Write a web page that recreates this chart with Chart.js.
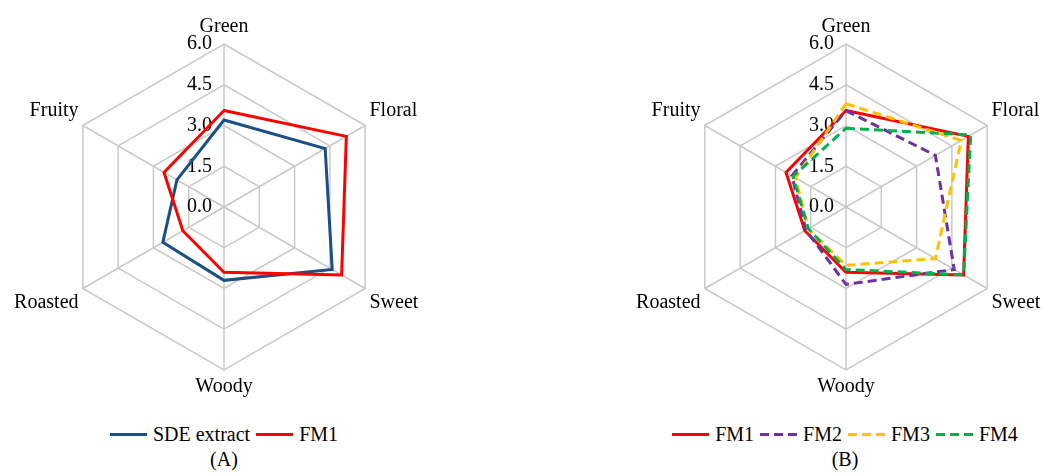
<!DOCTYPE html>
<html>
<head>
<meta charset="utf-8">
<script src="https://cdn.jsdelivr.net/npm/chart.js@4.4.1/dist/chart.umd.min.js"></script>
<style>
    html, body { margin: 0; padding: 0; background: #fff; }
    body { width: 1043px; height: 475px; position: relative; overflow: hidden;
           font-family: 'Liberation Serif', 'Times New Roman', serif; color: #000; }
    canvas { position: absolute; top: 0; }
    #chartA { left: 0; }
    #chartB { left: 521px; }
    .legend { position: absolute; top: 421px; width: 480px; height: 26px;
              display: flex; justify-content: center; align-items: center; font-size: 20px; }
    .legend .item { display: flex; align-items: center; margin: 0 3px; }
    .legend .swatch { width: 37px; height: 3px; margin-right: 6px; }
    .caption { position: absolute; top: 447px; width: 100px; text-align: center; font-size: 20px; line-height: 24px; }
</style>
</head>
<body>
<canvas id="chartA" width="521" height="420"></canvas>
<canvas id="chartB" width="522" height="420"></canvas>
<div class="legend" id="legendA" style="left: -16px;"></div>
<div class="legend" id="legendB" style="left: 605px;"></div>
<div class="caption" style="left: 174px;">(A)</div>
<div class="caption" style="left: 795px;">(B)</div>

<script>
// Sensory attributes (axes of both radars)
const attributes = ['Green', 'Floral', 'Sweet', 'Woody', 'Roasted', 'Fruity'];

// Intensity scores
const sdeExtract = [3.2, 4.3, 4.6, 2.7, 2.6, 2.0];
const fm1 = [3.55, 5.2, 5.0, 2.4, 1.75, 2.55];
const fm2 = [3.55, 3.8, 4.6, 2.85, 1.7, 2.3];
const fm3 = [3.8, 4.9, 3.8, 2.15, 1.6, 2.15];
const fm4 = [2.9, 5.3, 5.0, 2.3, 1.6, 2.25];

// Radial axis
const scaleMin = 0;
const scaleMax = 6;
const scaleStep = 1.5;

const FONT = '20px "Liberation Serif", "Times New Roman", serif';
const DASH = [9, 5];

// Tick values and point labels are drawn here so they sit like the original
// (ticks left of the vertical axis, labels outside each vertex)
const radarText = {
    id: 'radarText',
    beforeDatasetsDraw(chart) {
        const r = chart.scales.r;
        const ctx = chart.ctx;
        const n = chart.data.labels.length;
        const h = 24;
        ctx.save();
        ctx.fillStyle = '#000';
        ctx.font = FONT;
        ctx.textBaseline = 'middle';

        ctx.textAlign = 'right';
        r.ticks.forEach(t => {
            const d = r.getDistanceFromCenterForValue(t.value);
            ctx.fillText(t.value.toFixed(1), r.xCenter - 12, r.yCenter - d);
        });

        chart.data.labels.forEach((label, i) => {
            const p = r.getPointPosition(i, r.drawingArea + 5);
            const deg = Math.round(i * 360 / n);
            let y = p.y;
            if (deg === 90 || deg === 270) {
                y -= h / 2;
            } else if (deg > 270 || deg < 90) {
                y -= h;
            }
            if (deg === 0 || deg === 180) {
                ctx.textAlign = 'center';
            } else if (deg < 180) {
                ctx.textAlign = 'left';
            } else {
                ctx.textAlign = 'right';
            }
            ctx.fillText(label, p.x, y + h / 2);
        });
        ctx.restore();
    }
};

function lineSet(label, data, color, dashed, order) {
    return {
        label: label,
        data: data,
        borderColor: color,
        backgroundColor: color,
        borderWidth: 3,
        borderDash: dashed ? DASH : [],
        fill: false,
        tension: 0,
        pointRadius: 0,
        pointHoverRadius: 0,
        order: order
    };
}

function radarOptions(padding) {
    return {
        responsive: false,
        animation: false,
        layout: { padding: padding },
        plugins: {
            legend: { display: false },
            tooltip: { enabled: false }
        },
        scales: {
            r: {
                min: scaleMin,
                max: scaleMax,
                ticks: { display: false, stepSize: scaleStep },
                pointLabels: { display: false },
                grid: { color: '#C9C9C9', lineWidth: 1.5 },
                angleLines: { color: '#C9C9C9', lineWidth: 1.5 }
            }
        }
    };
}

function buildLegend(id, datasets) {
    const box = document.getElementById(id);
    datasets.forEach(ds => {
        const item = document.createElement('div');
        item.className = 'item';
        const sw = document.createElement('span');
        sw.className = 'swatch';
        if (ds.borderDash.length) {
            sw.style.background = 'repeating-linear-gradient(to right, ' + ds.borderColor + ' 0 ' + DASH[0] + 'px, transparent ' +
                DASH[0] + 'px ' + (DASH[0] + DASH[1]) + 'px)';
        } else {
            sw.style.background = ds.borderColor;
        }
        const txt = document.createElement('span');
        txt.textContent = ds.label;
        item.appendChild(sw);
        item.appendChild(txt);
        box.appendChild(item);
    });
}

const setsA = [
    lineSet('SDE extract', sdeExtract, '#1B4F86', false, 2),
    lineSet('FM1', fm1, '#FF0000', false, 1)
];

const setsB = [
    lineSet('FM1', fm1, '#FF0000', false, 4),
    lineSet('FM2', fm2, '#7030A0', true, 3),
    lineSet('FM3', fm3, '#FFC000', true, 2),
    lineSet('FM4', fm4, '#00B050', true, 1)
];

new Chart(document.getElementById('chartA'), {
    type: 'radar',
    data: { labels: attributes, datasets: setsA },
    options: radarOptions({ left: 61, top: 44, right: 134, bottom: 50 }),
    plugins: [radarText]
});

new Chart(document.getElementById('chartB'), {
    type: 'radar',
    data: { labels: attributes, datasets: setsB },
    options: radarOptions({ left: 162, top: 44, right: 34, bottom: 50 }),
    plugins: [radarText]
});

buildLegend('legendA', setsA);
buildLegend('legendB', setsB);
</script>
</body>
</html>
